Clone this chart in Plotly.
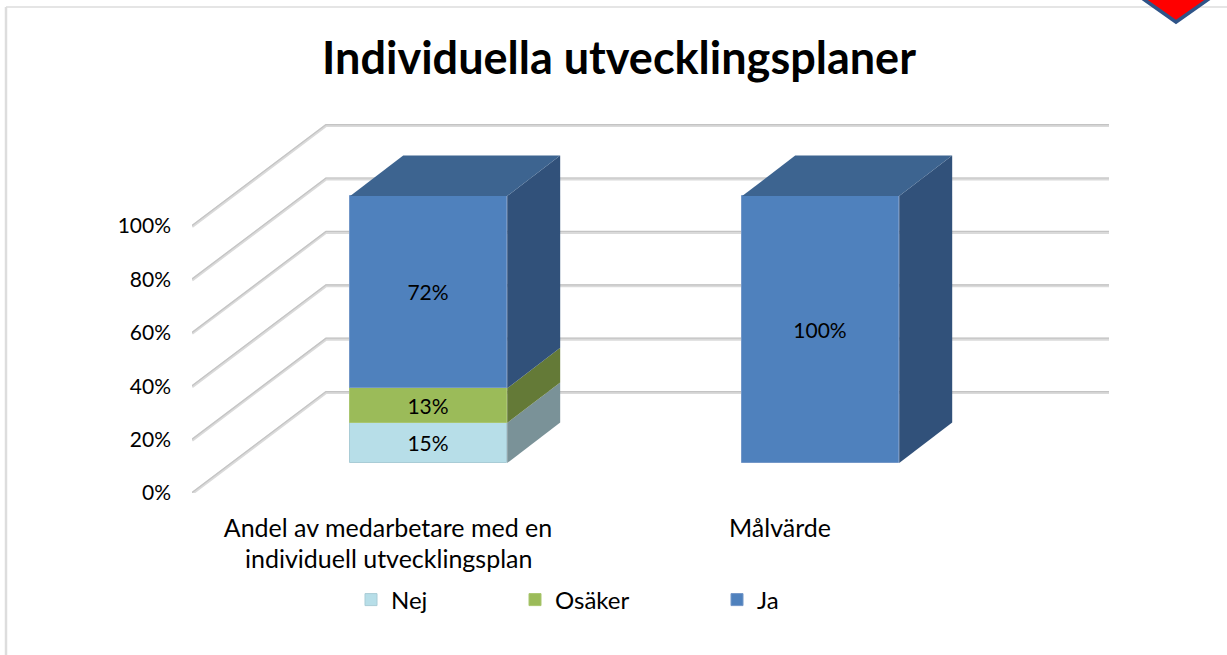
import plotly.graph_objects as go

# ---- data ----
categories = ["Andel av medarbetare med en", "Målvärde"]
category_second_line = ["individuell utvecklingsplan", ""]
series_names = ["Nej", "Osäker", "Ja"]
nej = [15, 0]
osaker = [13, 0]
ja = [72, 100]
y_ticks = [0, 20, 40, 60, 80, 100]
title = "Individuella utvecklingsplaner"

# ---- styles / geometry ----
W, H = 1227, 655
FONT = "Lato"
L, R, T, B = 192, 92, 100, 162          # plot-area margins (px)
PX_X, PX_Y = 392.0, 2.67                # px per category, px per percent
front = {"Nej": "#b7dee8", "Osäker": "#9bbb59", "Ja": "#4f81bd"}
side = {"Nej": "#7a9298", "Osäker": "#647a37", "Ja": "#31517a"}
top_col = "#3d6490"
edge = {"Nej": "#a9ccd6", "Osäker": "#a9c66f", "Ja": "#7397c8"}
BAR_W = 157 / PX_X
FX, FY = 158.2 / PX_X, 30 / PX_Y               # front-plane offset of a bar
BX, BY = 53 / PX_X, 40.4 / PX_Y                # bar depth
WX, WY = 134 / PX_X, 101 / PX_Y                # chart depth (side wall)
X_END = 917 / PX_X


def py(y):
    return 1 - (y - T) / (H - T - B)


plot_w = W - L - R


def qx(x):
    return (x - L) / plot_w


fig = go.Figure()
values = {"Nej": nej, "Osäker": osaker, "Ja": ja}
legend_ids = {"Nej": "legend", "Osäker": "legend2", "Ja": "legend3"}
totals = [0.0 for _ in categories]
side_traces = []
for name in series_names:
    for i, v in enumerate(values[name]):
        if v == 0:
            continue
        left = i + FX
        right = left + BAR_W
        lo = totals[i] + FY
        hi = lo + v
        fig.add_trace(go.Bar(
            x=[(left + right) / 2], y=[v], base=[lo], width=[BAR_W], name=name,
            marker=dict(color=front[name], line=dict(color=edge[name], width=1)),
            text=[f"{v}%"], textposition="inside", insidetextanchor="middle",
            textangle=0, constraintext="none",
            textfont=dict(family=FONT, size=21, color="#000000"),
            legend=legend_ids[name], legendgroup=name, showlegend=(i == 0),
            hoverinfo="skip",
        ))
        side_traces.append(go.Scatter(
            x=[right, right + BX, right + BX, right, right],
            y=[lo, lo + BY, hi + BY, hi, lo],
            mode="lines", fill="toself", fillcolor=side[name],
            line=dict(width=0), showlegend=False, hoverinfo="skip",
        ))
        totals[i] += v
for i, t in enumerate(totals):
    left = i + FX
    right = left + BAR_W
    hi = FY + t
    side_traces.append(go.Scatter(
        x=[left, left + BX, right + BX, right, left],
        y=[hi, hi + BY, hi + BY, hi, hi],
        mode="lines", fill="toself", fillcolor=top_col,
        line=dict(width=0), showlegend=False, hoverinfo="skip",
    ))
fig.add_traces(side_traces)

# gridlines: side wall + back wall, behind the bars
shapes = []
for t in y_ticks:
    for col, wid, d in (("#dadada", 3, -0.6), ("#c4c4c4", 1.2, 0.4)):
        shapes.append(dict(
            type="path", layer="below", xref="x", yref="y",
            path=f"M 0 {t + d / PX_Y} L {WX} {t + WY + d / PX_Y} L {X_END} {t + WY + d / PX_Y}",
            line=dict(color=col, width=wid), fillcolor="rgba(0,0,0,0)",
        ))
# slide frame and corner emblem
frame_col = "#dddddd"
shapes.append(dict(type="line", xref="paper", yref="paper", x0=qx(6), x1=qx(W),
                   y0=py(7), y1=py(7), line=dict(color=frame_col, width=1.5), layer="below"))
shapes.append(dict(type="line", xref="paper", yref="paper", x0=qx(6), x1=qx(6),
                   y0=py(7), y1=py(H), line=dict(color=frame_col, width=2.5), layer="below"))
shapes.append(dict(
    type="path", xref="paper", yref="paper", layer="above",
    path=f"M {qx(1139)} {py(-4)} L {qx(1176)} {py(22)} L {qx(1213)} {py(-4)} Z",
    fillcolor="#ff0000", line=dict(color="#2f5488", width=3.5),
))

legend_common = dict(orientation="h", xanchor="left", yanchor="middle", yref="paper", xref="paper",
                     font=dict(family=FONT, size=24, color="#000000"),
                     bgcolor="rgba(0,0,0,0)", itemwidth=30, traceorder="normal")

annotations = []
for i, s in enumerate(category_second_line):
    if s:
        annotations.append(dict(
            x=i + 0.5, y=py(558), xref="x", yref="paper", text=s, showarrow=False,
            yanchor="middle", font=dict(family=FONT, size=25, color="#000000"),
        ))

fig.update_layout(
    width=W, height=H, autosize=False,
    margin=dict(l=L, r=R, t=T, b=B, pad=0),
    paper_bgcolor="#ffffff", plot_bgcolor="rgba(0,0,0,0)",
    barmode="overlay", bargap=0,
    title=dict(text=f"<b>{title}</b>", x=619 / W, xref="container", xanchor="center",
               y=1 - 58 / H, yref="container", yanchor="middle",
               font=dict(family=FONT, size=45, color="#000000")),
    xaxis=dict(range=[0, (W - L - R) / PX_X], tickmode="array",
               tickvals=[i + 0.5 for i in range(len(categories))], ticktext=categories,
               showgrid=False, zeroline=False, showline=False, ticks="",
               ticklabelstandoff=18,
               tickfont=dict(family=FONT, size=25, color="#000000")),
    yaxis=dict(range=[0, (H - T - B) / PX_Y], tickmode="array", tickvals=y_ticks,
               ticktext=[f"{t}%" for t in y_ticks],
               showgrid=False, zeroline=False, showline=False, ticks="",
               ticklabelstandoff=20,
               tickfont=dict(family=FONT, size=21, color="#000000")),
    legend=dict(x=qx(351), y=py(600), **legend_common),
    legend2=dict(x=qx(515), y=py(600), **legend_common),
    legend3=dict(x=qx(717), y=py(600), **legend_common),
    shapes=shapes, annotations=annotations,
)

fig.write_html("out.html", post_script="document.body.style.margin='0';",
               config={"displayModeBar": False})
